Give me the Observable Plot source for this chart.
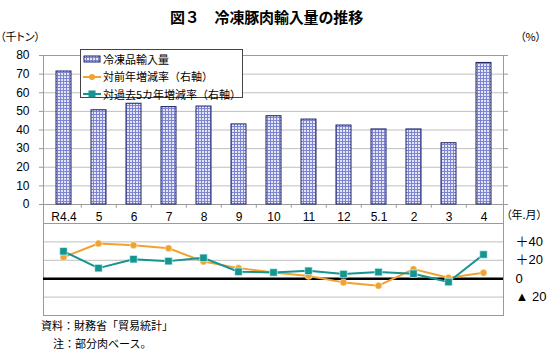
<!DOCTYPE html>
<html><head><meta charset="utf-8">
<script src="https://cdn.jsdelivr.net/npm/d3@7"></script>
<script src="https://cdn.jsdelivr.net/npm/@observablehq/plot@0.6"></script>
<style>
body{margin:0;background:#fff;}
#wrap{position:relative;width:550px;height:354px;font-family:"Liberation Sans","Noto Sans CJK JP",sans-serif;color:#000;overflow:hidden;background:#fff}
.abs{position:absolute;white-space:nowrap;line-height:1}
.plot{position:absolute;left:0}
</style></head><body>
<svg width="0" height="0" style="position:absolute">
  <defs>
    <pattern id="chk" width="3" height="3" patternUnits="userSpaceOnUse">
      <rect width="3" height="3" fill="#e4e6f8"/>
      <rect x="0" y="0" width="1" height="3" fill="#7d85d2"/>
      <rect x="0" y="0" width="3" height="1" fill="#7d85d2"/>
    </pattern>
  </defs>
</svg>
<div id="wrap"></div>
<script>
// ---- data ----
const months = ["R4.4","5","6","7","8","9","10","11","12","5.1","2","3","4"];
const imports = [71.4,50.6,54.1,52.3,52.6,43.0,47.4,45.6,42.4,40.3,40.3,32.9,76.0];
const yoy = [23.4,38.2,36.4,33.1,18.7,11.5,6.8,2.9,-4.0,-7.6,10.4,1.0,6.5];
const vs5y = [29.8,11.5,21.2,19.1,22.7,7.5,6.8,8.6,5.0,7.2,5.4,-3.6,26.3];
const leftTicks = [0,10,20,30,40,50,60,70,80];
const rightTicks = [40,20,0,-20];
const rightTickLabels = ["＋40","＋20","0","▲ 20"];
const lowerGrid = [60,40,20,-20];
const seriesNames = ["冷凍品輸入量","対前年増減率（右軸）","対過去5カ年増減率（右軸）"];
const title = "図３　冷凍豚肉輸入量の推移";
const notes = ["資料：財務省「貿易統計」","注：部分肉ベース。"];

const ORANGE = "#f0a232", TEAL = "#159490", GRID = "#bfbfbf", FRAME = "#9a9a9a";
const FONT = '"Liberation Sans","Noto Sans CJK JP",sans-serif';
const JP = '"Noto Sans CJK JP",sans-serif';

const bars = months.map((m,i)=>({m, v: imports[i]}));
const lines = [
  ...months.map((m,i)=>({m, v: yoy[i], s: "yoy"})),
  ...months.map((m,i)=>({m, v: vs5y[i], s: "5y"}))
];
const boundaries = months.slice(1);

const W = 550, L = 43, R = 47;
const step = (W - L - R) / months.length;

const wrap = document.getElementById("wrap");

// ---- top panel ----
const topPlot = Plot.plot({
  width: W, height: 232,
  marginTop: 55, marginBottom: 28, marginLeft: L, marginRight: R,
  style: {background: "transparent", overflow: "visible", fontFamily: FONT, fontSize: "12px", color: "#000"},
  x: {domain: months, paddingInner: 0.585, paddingOuter: 0.2925, label: null},
  y: {domain: [0, 80], label: null},
  marks: [
    Plot.gridY(leftTicks, {stroke: GRID, strokeOpacity: 1}),
    Plot.frame({stroke: FRAME, insetBottom: -19}),
    Plot.ruleY([0], {stroke: FRAME}),
    Plot.ruleX(boundaries, {x: d => d, dx: -step/2, y1: 0, y2: -2, stroke: FRAME}),
    Plot.axisY(leftTicks, {tickSize: 4, tickPadding: 10, stroke: FRAME, fill: "#000", fontSize: 12, label: null}),
    Plot.axisY(leftTicks, {anchor: "right", tickSize: 4, tickFormat: () => "", stroke: FRAME, label: null}),
    Plot.axisX({tickSize: 0, tickPadding: 8, fontSize: 12, fill: "#000", label: null}),
    Plot.barY(bars, {x: "m", y: "v", fill: "url(#chk)", stroke: "#1c2060", strokeWidth: 1})
  ]
});
topPlot.classList.add("plot");
topPlot.style.top = "0px";
wrap.appendChild(topPlot);

// ---- bottom panel ----
const bottomPlot = Plot.plot({
  width: W, height: 110,
  marginTop: 13, marginBottom: 5, marginLeft: L, marginRight: R,
  style: {background: "transparent", overflow: "visible", fontFamily: FONT, fontSize: "12px", color: "#000"},
  x: {type: "point", domain: months, padding: 0.5, axis: null},
  y: {domain: [-40, 60], label: null},
  marks: [
    Plot.gridY(lowerGrid, {stroke: GRID, strokeOpacity: 1}),
    Plot.frame({stroke: FRAME}),
    Plot.ruleY([0], {stroke: "#000", strokeWidth: 2.5}),
    Plot.axisY(rightTicks, {anchor: "right", tickSize: 0, tickPadding: 12, textAnchor: "start",
      tickFormat: (d) => rightTickLabels[rightTicks.indexOf(d)], fontSize: 13, fill: "#000", label: null}),
    Plot.line(lines.filter(d => d.s === "yoy"), {x: "m", y: "v", stroke: ORANGE, strokeWidth: 2}),
    Plot.line(lines.filter(d => d.s === "5y"), {x: "m", y: "v", stroke: TEAL, strokeWidth: 2}),
    Plot.dot(lines.filter(d => d.s === "yoy"), {x: "m", y: "v", r: 3.5, fill: ORANGE, stroke: "#fff", strokeWidth: 0.5}),
    Plot.dot(lines.filter(d => d.s === "5y"), {x: "m", y: "v", symbol: "square", r: 4.2, fill: TEAL, stroke: "#dff", strokeWidth: 0.6})
  ]
});
bottomPlot.classList.add("plot");
bottomPlot.style.top = "210px";
wrap.appendChild(bottomPlot);

// ---- texts ----
function addText(txt, css, parent){
  const d = document.createElement("div");
  d.className = "abs"; d.textContent = txt;
  Object.assign(d.style, {fontFamily: JP}, css);
  (parent || wrap).appendChild(d);
  return d;
}
function fitWidth(el, target){
  const w = el.getBoundingClientRect().width;
  const n = [...el.textContent].length;
  el.style.letterSpacing = ((target - w) / n) + "px";
}
const tEl = addText(title, {left: "170px", top: "9px", fontSize: "15px", fontWeight: "bold"});
fitWidth(tEl, 193);
addText("（千トン）", {left: "0px", top: "31px", fontSize: "11px", fontFeatureSettings: '"palt"'});
addText("（%）", {left: "520px", top: "31px", fontSize: "11px", fontFeatureSettings: '"palt"'});
addText("（年.月）", {left: "506px", top: "209px", fontSize: "11px", fontFeatureSettings: '"palt"'});
addText(notes[0], {left: "41px", top: "320px", fontSize: "11px"});
addText(notes[1], {left: "53px", top: "338px", fontSize: "11px"});

// ---- legend ----
const leg = document.createElement("div");
leg.className = "abs";
Object.assign(leg.style, {left: "80px", top: "49px", width: "161px", height: "47px", background: "#fff", border: "1px solid #444", fontFamily: JP, fontSize: "11px"});
wrap.appendChild(leg);
const sw = [
  `<svg width="18" height="10"><rect x="1" y="2" width="16" height="6" fill="url(#chk)" stroke="#1c2060" stroke-width="1"/></svg>`,
  `<svg width="18" height="10"><line x1="0" x2="18" y1="5" y2="5" stroke="${ORANGE}" stroke-width="2"/><circle cx="9" cy="5" r="3" fill="${ORANGE}"/></svg>`,
  `<svg width="18" height="10"><line x1="0" x2="18" y1="5" y2="5" stroke="${TEAL}" stroke-width="2"/><rect x="5.5" y="1.5" width="7" height="7" fill="${TEAL}"/></svg>`
];
seriesNames.forEach((n, i) => {
  const row = document.createElement("div");
  Object.assign(row.style, {position: "absolute", left: "2px", top: (1 + i*17.5) + "px", height: "16px", display: "flex", alignItems: "center", whiteSpace: "nowrap"});
  row.innerHTML = sw[i] + `<span style="margin-left:2px">${n}</span>`;
  leg.appendChild(row);
});
</script>
</body></html>
